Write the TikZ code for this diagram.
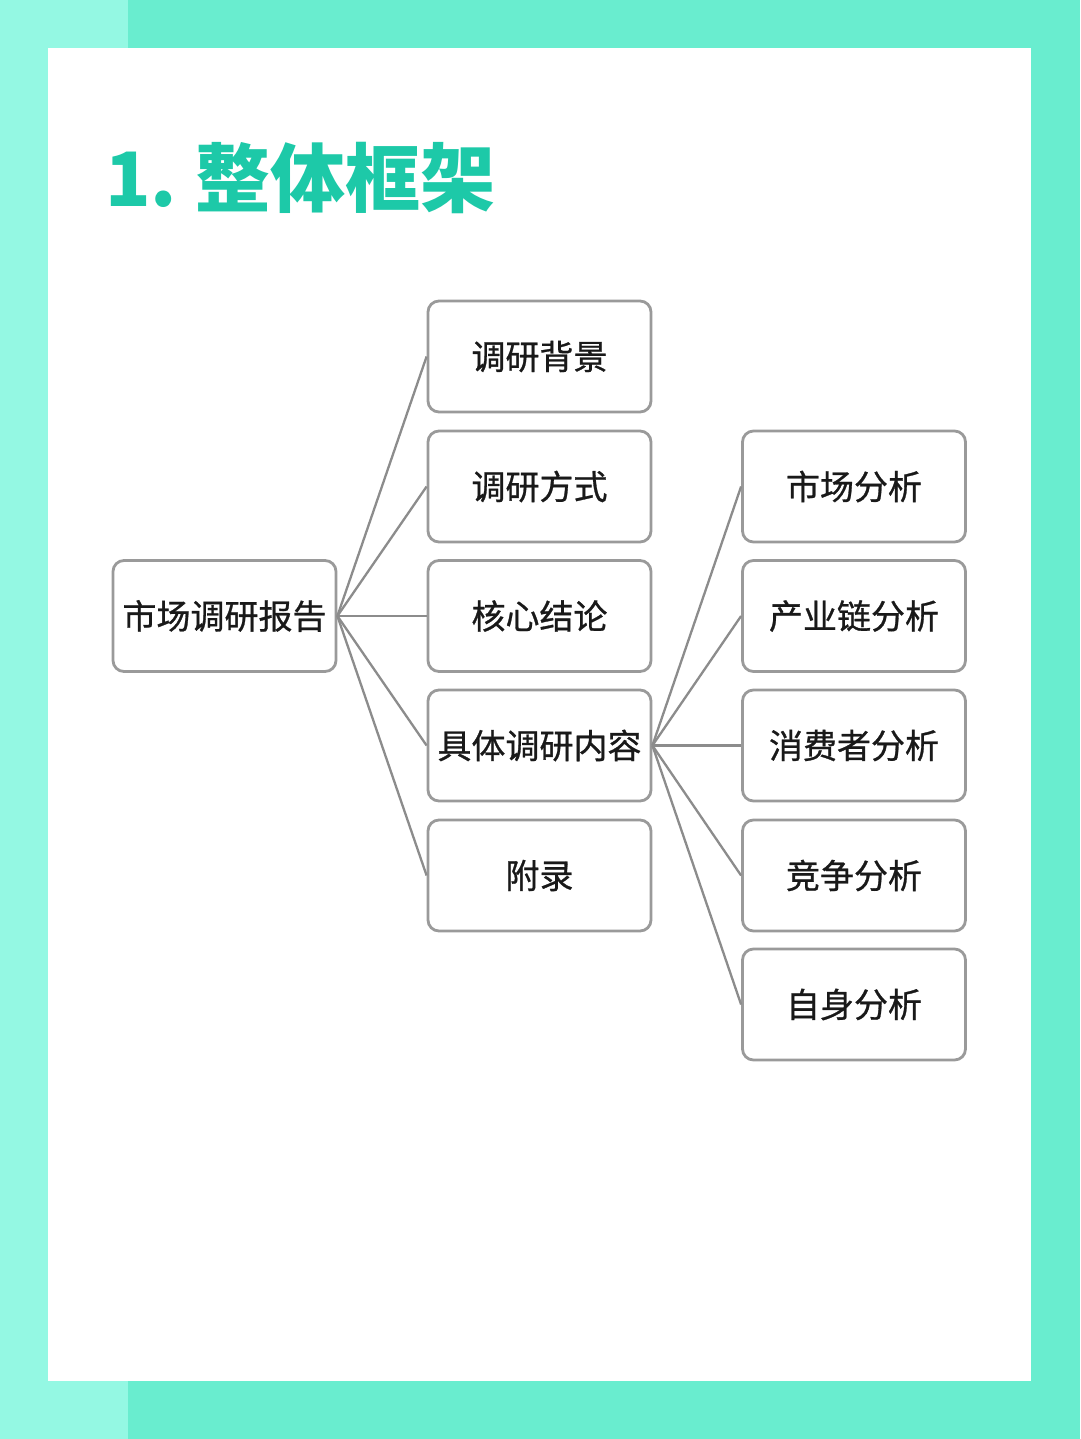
\documentclass[tikz,border=0pt]{standalone}
\usepackage{fontspec}
\newfontfamily\cjk{Noto Sans CJK SC}
\newfontfamily\cjkm[FakeBold=0.8]{Noto Sans CJK SC}
\definecolor{mintL}{HTML}{94F8E3}
\definecolor{mintD}{HTML}{69EDCF}
\definecolor{teal}{HTML}{1DC9A8}
\definecolor{boxgray}{HTML}{9A9A9A}
\definecolor{linegray}{HTML}{8C8C8C}
\tikzset{
  box/.style={draw=boxgray, line width=2.8pt, rounded corners=11pt, fill=white,
    minimum width=223pt, minimum height=111pt, inner sep=0pt,
    font=\cjkm\fontsize{34}{34}\selectfont, text=black!90},
  conn/.style={draw=linegray, line width=2.3pt}
}
\begin{document}
\begin{tikzpicture}[x=1pt,y=-1pt]
\useasboundingbox (0,0) rectangle (1080,1439);
\fill[mintD] (0,0) rectangle (1080,1439);
\fill[mintL] (0,0) rectangle (128,1439);
\fill[white] (48,48) rectangle (1031,1381);
% title
\node[anchor=west, inner sep=0pt, text=teal,
  font=\cjk\bfseries\fontsize{75}{75}\selectfont] (title) at (105,178) {1.\hspace{18pt}整体框架};
% nodes
\node[box] (root) at (224.5,616) {市场调研报告};
\node[box] (b1) at (539.5,356.5) {调研背景};
\node[box] (b2) at (539.5,486.5) {调研方式};
\node[box] (b3) at (539.5,616) {核心结论};
\node[box] (b4) at (539.5,745.5) {具体调研内容};
\node[box] (b5) at (539.5,875.5) {附录};
\node[box] (c1) at (854,486.5) {市场分析};
\node[box] (c2) at (854,616) {产业链分析};
\node[box] (c3) at (854,745.5) {消费者分析};
\node[box] (c4) at (854,875.5) {竞争分析};
\node[box] (c5) at (854,1004.5) {自身分析};
% connectors
\foreach \t in {b1,b2,b3,b4,b5} \draw[conn] (root.east) -- (\t.west);
\foreach \t in {c1,c2,c3,c4,c5} \draw[conn] (b4.east) -- (\t.west);
\end{tikzpicture}
\end{document}
